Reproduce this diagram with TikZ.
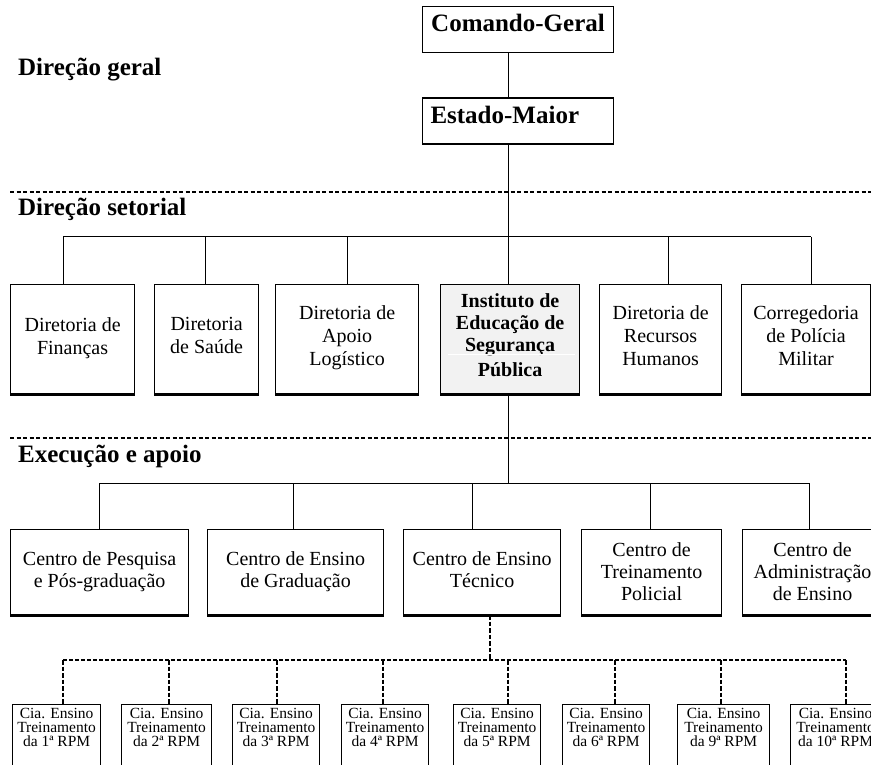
\documentclass[tikz,border=0pt]{standalone}
\usepackage{fontspec}
\setmainfont{Liberation Serif}
\definecolor{instgray}{HTML}{F2F2F2}
\begin{document}
\begin{tikzpicture}[x=1pt,y=1pt,
  conn/.style={line width=1pt},
  sect/.style={line width=1.6pt, dash pattern=on 4pt off 2.5pt},
  dconn/.style={line width=1.7pt, dash pattern=on 4.5pt off 2pt},
  dhconn/.style={line width=1.3pt, dash pattern=on 4pt off 2pt},
  hdr/.style={font=\fontsize{25}{28}\selectfont\bfseries, anchor=base west, inner sep=0pt},
  topbox/.style={draw, line width=1pt, anchor=north west, minimum width=191pt, minimum height=46pt, text width=175pt, inner xsep=8pt, inner ysep=0pt, font=\fontsize{25}{28}\selectfont\bfseries, text height=17pt, text depth=12pt},
  dbox/.style={draw, line width=1.2pt, anchor=north west, inner sep=0pt, align=center, minimum height=109pt, font=\fontsize{20}{23}\selectfont},
  cbox/.style={dbox, minimum height=85pt, font=\fontsize{20}{22}\selectfont},
  ciabox/.style={draw, line width=1.2pt, anchor=north west, inner sep=0pt, minimum height=80pt},
  ciatext/.style={font=\fontsize{15.5}{14}\selectfont, align=center, inner sep=0pt, anchor=north, yshift=-4pt},
  thickedge/.style={line width=2.6pt}
]
\fill[white] (0,0) rectangle (871,-765);
\useasboundingbox (0,0) rectangle (871,-765);
\clip (0,0) rectangle (871,-765);

% section headers
\node[hdr] (h1) at (18,-76) {Direção geral};
\node[hdr] (h2) at (18,-216) {Direção setorial};
\node[hdr] (h3) at (18,-462) {Execução e apoio};

% section dividers
\coordinate (s1a) at (10,-192); \coordinate (s1b) at (875,-192);
\coordinate (s2a) at (10,-438); \coordinate (s2b) at (875,-438);
\draw[sect] (s1a) -- (s1b);
\draw[sect] (s2a) -- (s2b);

% top
\node[topbox, align=center] (cg) at (422,-6) {Comando-Geral};
\node[topbox, align=left, minimum height=45pt] (em) at (422,-98) {Estado-Maior};

% row 2
\node[dbox, minimum width=124pt, text depth=7pt] (d1) at (10,-284) {Diretoria de\\Finanças};
\node[dbox, minimum width=104pt, text depth=7pt] (d2) at (154,-284) {Diretoria\\de Saúde};
\node[dbox, minimum width=143pt, text depth=7pt] (d3) at (275,-284) {Diretoria de\\Apoio\\Logístico};
\node[dbox, minimum width=139pt, fill=instgray, font=\fontsize{20}{22}\selectfont\bfseries, text depth=9pt] (d4) at (440,-284) {Instituto de\\Educação de\\Segurança\\[3pt]Pública};
\node[dbox, minimum width=122pt, text depth=7pt] (d5) at (599,-284) {Diretoria de\\Recursos\\Humanos};
\node[dbox, minimum width=129pt, text depth=7pt] (d6) at (741,-284) {Corregedoria\\de Polícia\\Militar};
\coordinate (wl1) at (448,-354); \coordinate (wl2) at (575,-354);
\draw[white, line width=0.8pt] (wl1) -- (wl2);

% row 3
\node[cbox, minimum width=178pt, text depth=6pt] (c1) at (10,-529) {Centro de Pesquisa\\e Pós-graduação};
\node[cbox, minimum width=176pt, text depth=6pt] (c2) at (207,-529) {Centro de Ensino\\de Graduação};
\node[cbox, minimum width=157pt, text depth=6pt] (c3) at (403,-529) {Centro de Ensino\\Técnico};
\node[cbox, minimum width=140pt] (c4) at (581,-529) {Centro de\\Treinamento\\Policial};
\node[cbox, minimum width=140pt] (c5) at (742,-529) {Centro de\\Administração\\de Ensino};

% row 4
\foreach \n/\x/\w/\t in {r1/12/88/1, r2/121/90/2, r3/232/87/3, r4/341/87/4, r5/453/87/5, r6/562/87/6, r7/677/92/9, r8/790/90/10}{
  \node[ciabox, minimum width=\w pt, label={[ciatext]north:{Cia. Ensino\\Treinamento\\da \t ª RPM}}] (\n) at (\x,-704) {};
}

% thick bottom edges
\draw[thickedge] (em.north west) -- (em.north east);
\foreach \n in {em,d1,d2,d3,d4,d5,d6,c1,c2,c3,c4,c5}{
  \draw[thickedge] (\n.south west) -- (\n.south east);
}

% connectors top
\coordinate (jt) at (508,-237);
\draw[conn] (cg.south -| jt) -- (em.north -| jt);
\draw[conn] (em.south -| jt) -- (jt);
\coordinate (ja) at (63,-237); \coordinate (jb) at (811,-237);
\draw[conn] (ja) -- (jb);
\foreach \n/\x in {d1/63, d2/205, d3/347, d4/508, d5/668, d6/811}{
  \coordinate (t\n) at (\x,-237);
  \draw[conn] (t\n) -- (t\n |- \n.north);
}

% connectors middle
\coordinate (jm) at (508,-483);
\draw[conn] (d4.south -| jm) -- (jm);
\coordinate (jc) at (99,-483); \coordinate (jd) at (809,-483);
\draw[conn] (jc) -- (jd);
\foreach \n/\x in {c1/99, c2/293, c3/472, c4/650, c5/809}{
  \coordinate (t\n) at (\x,-483);
  \draw[conn] (t\n) -- (t\n |- \n.north);
}

% dashed connectors bottom
\coordinate (jx) at (490,-660);
\draw[dconn] (c3.south -| jx) -- (jx);
\coordinate (je) at (63,-660); \coordinate (jf) at (846,-660);
\draw[dhconn] (je) -- (jf);
\foreach \n/\x in {r1/63, r2/169, r3/277, r4/383, r5/508, r6/615, r7/721, r8/846}{
  \coordinate (t\n) at (\x,-660);
  \draw[dconn] (t\n) -- (t\n |- \n.north);
}
\end{tikzpicture}
\end{document}
